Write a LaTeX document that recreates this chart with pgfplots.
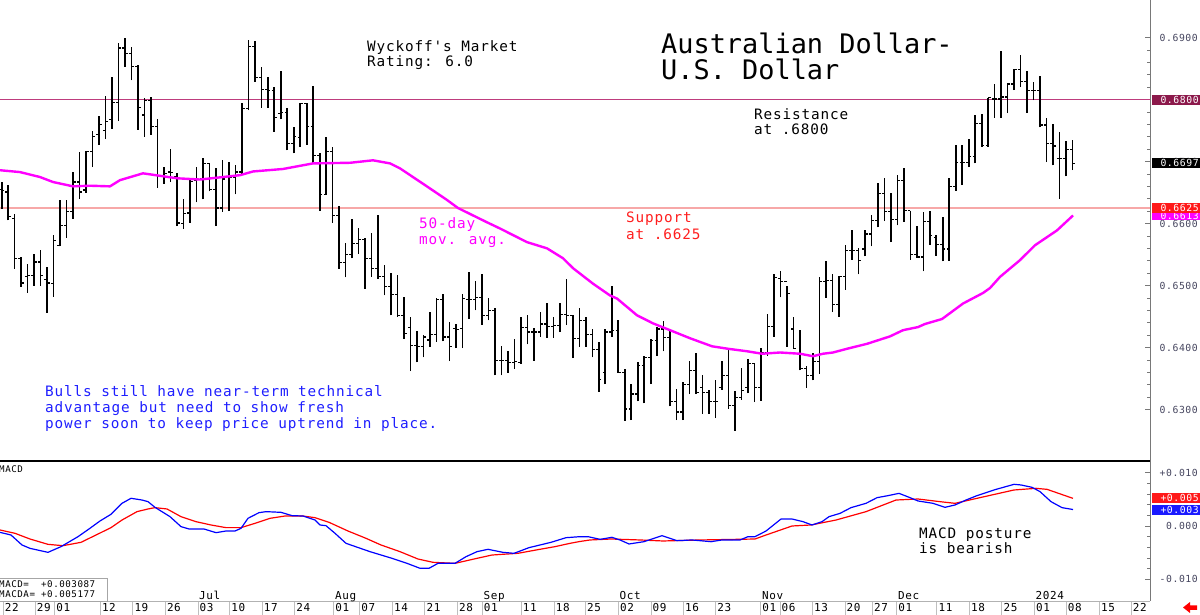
\documentclass[border=0pt]{standalone}
\usepackage{pgfplots}
\pgfplotsset{compat=1.18}
\usepackage{pgfplotstable}
\usepackage{fontspec}
\setmainfont{DejaVu Sans Mono}
\newfontfamily\chart[LetterSpace=6]{DejaVu Sans Mono}
\newfontfamily\titlefont{DejaVu Sans Mono}
\newcommand\fs[1]{\fontsize{#1}{#1}\selectfont}

\definecolor{resline}{RGB}{190,60,125}
\definecolor{maroonbox}{RGB}{140,25,75}
\definecolor{supportline}{RGB}{247,168,168}
\definecolor{redbox}{RGB}{255,25,25}
\definecolor{magbox}{RGB}{255,0,255}
\definecolor{bluebox}{RGB}{25,25,255}
\definecolor{tickgray}{RGB}{70,70,95}
\definecolor{axisgray}{RGB}{120,120,120}
\definecolor{macdblue}{RGB}{0,0,255}
\definecolor{macdred}{RGB}{255,0,0}
\definecolor{mavgcol}{RGB}{255,0,255}
\definecolor{textblue}{RGB}{30,30,255}
\definecolor{textred}{RGB}{255,30,30}

% daily AUD/USD bars: d = trading day, high, low, open, close
\pgfplotstableread{
d H L O C
0 0.6667 0.6624 0.6655 0.6653
1 0.6662 0.6605 0.6651 0.6611
2 0.6616 0.6527 0.6608 0.6543
3 0.6546 0.6498 0.6543 0.6504
4 0.6535 0.6488 0.6515 0.6516
5 0.6551 0.6500 0.6516 0.6538
6 0.6557 0.6500 0.6538 0.6516
7 0.6530 0.6456 0.6510 0.6504
8 0.6581 0.6482 0.6503 0.6573
9 0.6638 0.6563 0.6565 0.6597
10 0.6638 0.6577 0.6597 0.6619
11 0.6683 0.6608 0.6619 0.6667
12 0.6715 0.6640 0.6667 0.6651
13 0.6717 0.6650 0.6654 0.6716
14 0.6750 0.6691 0.6716 0.6741
15 0.6774 0.6727 0.6743 0.6760
16 0.6806 0.6736 0.6750 0.6765
17 0.6836 0.6753 0.6768 0.6795
18 0.6892 0.6765 0.6795 0.6883
19 0.6900 0.6853 0.6883 0.6874
20 0.6885 0.6831 0.6874 0.6853
21 0.6856 0.6751 0.6853 0.6787
22 0.6803 0.6740 0.6775 0.6799
23 0.6804 0.6743 0.6799 0.6756
24 0.6768 0.6658 0.6756 0.6678
25 0.6692 0.6664 0.6678 0.6681
26 0.6720 0.6667 0.6683 0.6682
27 0.6682 0.6596 0.6676 0.6601
28 0.6640 0.6592 0.6600 0.6616
29 0.6670 0.6601 0.6617 0.6668
30 0.6691 0.6634 0.6670 0.6671
31 0.6706 0.6639 0.6672 0.6697
32 0.6698 0.6652 0.6697 0.6655
33 0.6689 0.6596 0.6655 0.6625
34 0.6702 0.6619 0.6625 0.6672
35 0.6699 0.6620 0.6676 0.6675
36 0.6694 0.6647 0.6675 0.6683
37 0.6795 0.6680 0.6683 0.6786
38 0.6896 0.6783 0.6786 0.6886
39 0.6894 0.6829 0.6886 0.6836
40 0.6853 0.6787 0.6836 0.6816
41 0.6837 0.6787 0.6816 0.6815
42 0.6820 0.6748 0.6815 0.6771
43 0.6846 0.6768 0.6777 0.6779
44 0.6787 0.6718 0.6779 0.6729
45 0.6756 0.6713 0.6729 0.6741
46 0.6794 0.6724 0.6739 0.6793
47 0.6794 0.6727 0.6793 0.6757
48 0.6822 0.6697 0.6757 0.6710
49 0.6713 0.6621 0.6710 0.6647
50 0.6739 0.6646 0.6647 0.6716
51 0.6724 0.6601 0.6716 0.6613
52 0.6628 0.6527 0.6613 0.6537
53 0.6568 0.6513 0.6537 0.6550
54 0.6608 0.6544 0.6550 0.6568
55 0.6593 0.6551 0.6568 0.6574
56 0.6576 0.6495 0.6574 0.6543
57 0.6584 0.6514 0.6543 0.6527
58 0.6613 0.6511 0.6527 0.6514
59 0.6533 0.6484 0.6514 0.6498
60 0.6520 0.6452 0.6498 0.6485
61 0.6517 0.6450 0.6485 0.6452
62 0.6481 0.6414 0.6452 0.6422
63 0.6449 0.6362 0.6432 0.6403
64 0.6426 0.6376 0.6403 0.6402
65 0.6421 0.6384 0.6402 0.6417
66 0.6457 0.6401 0.6412 0.6421
67 0.6480 0.6409 0.6421 0.6478
68 0.6487 0.6410 0.6478 0.6417
69 0.6441 0.6378 0.6417 0.6402
70 0.6438 0.6399 0.6431 0.6429
71 0.6487 0.6399 0.6431 0.6479
72 0.6522 0.6446 0.6478 0.6477
73 0.6507 0.6460 0.6477 0.6481
74 0.6518 0.6437 0.6481 0.6452
75 0.6480 0.6444 0.6452 0.6460
76 0.6464 0.6355 0.6460 0.6379
77 0.6402 0.6355 0.6379 0.6379
78 0.6395 0.6359 0.6379 0.6376
79 0.6414 0.6366 0.6376 0.6377
80 0.6449 0.6374 0.6376 0.6432
81 0.6453 0.6405 0.6432 0.6425
82 0.6431 0.6379 0.6425 0.6425
83 0.6458 0.6417 0.6425 0.6438
84 0.6472 0.6416 0.6438 0.6434
85 0.6449 0.6416 0.6434 0.6436
86 0.6472 0.6425 0.6436 0.6453
87 0.6510 0.6436 0.6453 0.6452
88 0.6453 0.6383 0.6452 0.6414
89 0.6464 0.6401 0.6414 0.6443
90 0.6449 0.6401 0.6443 0.6421
91 0.6430 0.6384 0.6421 0.6397
92 0.6409 0.6329 0.6397 0.6349
93 0.6430 0.6341 0.6360 0.6425
94 0.6500 0.6417 0.6425 0.6427
95 0.6445 0.6359 0.6427 0.6360
96 0.6366 0.6282 0.6360 0.6301
97 0.6341 0.6283 0.6301 0.6325
98 0.6376 0.6313 0.6325 0.6371
99 0.6386 0.6310 0.6371 0.6384
100 0.6414 0.6341 0.6384 0.6411
101 0.6433 0.6387 0.6411 0.6430
102 0.6443 0.6394 0.6430 0.6416
103 0.6429 0.6305 0.6416 0.6313
104 0.6333 0.6283 0.6313 0.6296
105 0.6344 0.6283 0.6296 0.6341
106 0.6379 0.6325 0.6341 0.6363
107 0.6391 0.6325 0.6363 0.6328
108 0.6356 0.6293 0.6336 0.6328
109 0.6332 0.6293 0.6328 0.6313
110 0.6348 0.6286 0.6313 0.6313
111 0.6379 0.6332 0.6336 0.6355
112 0.6399 0.6301 0.6355 0.6306
113 0.6330 0.6266 0.6306 0.6320
114 0.6367 0.6316 0.6320 0.6331
115 0.6382 0.6326 0.6336 0.6374
116 0.6375 0.6312 0.6374 0.6336
117 0.6400 0.6314 0.6336 0.6392
118 0.6454 0.6387 0.6392 0.6434
119 0.6518 0.6417 0.6434 0.6513
120 0.6523 0.6481 0.6511 0.6507
121 0.6500 0.6401 0.6507 0.6487
122 0.6449 0.6398 0.6430 0.6398
123 0.6429 0.6363 0.6390 0.6366
124 0.6371 0.6335 0.6366 0.6355
125 0.6391 0.6347 0.6355 0.6378
126 0.6513 0.6358 0.6378 0.6506
127 0.6540 0.6480 0.6506 0.6508
128 0.6519 0.6457 0.6508 0.6470
129 0.6515 0.6450 0.6470 0.6514
130 0.6565 0.6493 0.6514 0.6556
131 0.6590 0.6542 0.6556 0.6556
132 0.6561 0.6518 0.6556 0.6541
133 0.6590 0.6547 0.6559 0.6583
134 0.6613 0.6563 0.6583 0.6605
135 0.6666 0.6594 0.6605 0.6649
136 0.6674 0.6604 0.6648 0.6619
137 0.6650 0.6570 0.6619 0.6606
138 0.6679 0.6597 0.6606 0.6670
139 0.6690 0.6603 0.6670 0.6621
140 0.6621 0.6542 0.6621 0.6550
141 0.6596 0.6545 0.6550 0.6546
142 0.6619 0.6523 0.6546 0.6603
143 0.6620 0.6566 0.6603 0.6581
144 0.6582 0.6548 0.6578 0.6566
145 0.6610 0.6539 0.6566 0.6559
146 0.6673 0.6540 0.6559 0.6660
147 0.6726 0.6653 0.6660 0.6698
148 0.6726 0.6662 0.6698 0.6698
149 0.6736 0.6691 0.6698 0.6708
150 0.6775 0.6697 0.6708 0.6762
151 0.6776 0.6724 0.6762 0.6726
152 0.6803 0.6724 0.6726 0.6803
153 0.6825 0.6771 0.6801 0.6801
154 0.6879 0.6771 0.6801 0.6804
155 0.6826 0.6778 0.6804 0.6825
156 0.6850 0.6815 0.6825 0.6848
157 0.6872 0.6820 0.6848 0.6829
158 0.6846 0.6779 0.6829 0.6815
159 0.6829 0.6799 0.6815 0.6815
160 0.6838 0.6755 0.6815 0.6759
161 0.6771 0.6699 0.6759 0.6729
162 0.6761 0.6694 0.6729 0.6725
163 0.6748 0.6640 0.6705 0.6705
164 0.6733 0.6676 0.6705 0.6719
165 0.6734 0.6686 0.6719 0.6697
}\ohlc

% 50-day moving average (x in chart units)
\pgfplotstableread{
x v
0 0.6686
20 0.6683
40 0.6675
53 0.6667
73 0.6660
90 0.6661
110 0.6660
120 0.6670
143 0.6681
177 0.6673
200 0.6671
240 0.6678
253 0.6684
283 0.6688
313 0.6697
350 0.6698
373 0.6702
390 0.6697
400 0.6689
425 0.6662
447 0.6638
458 0.6625
487 0.6602
500 0.6592
527 0.6570
547 0.6560
563 0.6544
573 0.6528
593 0.6503
610 0.6484
617 0.6479
637 0.6452
653 0.6439
670 0.6428
690 0.6415
712 0.6402
728 0.6398
747 0.6394
762 0.6390
780 0.6392
800 0.6390
813 0.6386
823 0.6390
833 0.6392
847 0.6398
867 0.6406
890 0.6418
903 0.6428
918 0.6433
925 0.6438
942 0.6446
963 0.6471
983 0.6488
990 0.6496
1000 0.6514
1020 0.6541
1035 0.6565
1057 0.6589
1073 0.6613
}\mavg

% MACD line
\pgfplotstableread{
x v
0 -0.00119
11 -0.00169
22 -0.00356
30 -0.00419
48 -0.00494
61 -0.00387
78 -0.00200
89 -0.00056
100 0.00094
111 0.00219
122 0.00425
131 0.00519
142 0.00487
148 0.00456
155 0.00350
170 0.00175
181 -0.00012
189 -0.00056
204 -0.00056
216 -0.00125
226 -0.00094
235 -0.00094
241 -0.00044
248 0.00144
259 0.00250
266 0.00269
281 0.00256
292 0.00194
303 0.00187
315 0.00112
320 0.00019
326 0.00006
335 -0.00137
346 -0.00325
370 -0.00481
392 -0.00606
407 -0.00700
420 -0.00793
429 -0.00793
438 -0.00700
455 -0.00700
466 -0.00575
477 -0.00481
488 -0.00437
503 -0.00494
514 -0.00512
529 -0.00406
551 -0.00306
566 -0.00219
580 -0.00200
588 -0.00200
600 -0.00250
612 -0.00212
620 -0.00262
629 -0.00337
644 -0.00294
662 -0.00181
677 -0.00275
692 -0.00262
711 -0.00294
722 -0.00262
740 -0.00262
748 -0.00200
755 -0.00200
766 -0.00094
781 0.00131
792 0.00131
803 0.00081
812 0.00019
822 0.00081
829 0.00175
840 0.00237
851 0.00344
866 0.00425
877 0.00531
888 0.00569
899 0.00612
910 0.00531
918 0.00469
933 0.00425
945 0.00350
955 0.00394
966 0.00487
977 0.00569
995 0.00681
1014 0.00781
1021 0.00769
1032 0.00725
1040 0.00644
1051 0.00456
1062 0.00344
1073 0.003087
}\macd

% MACD signal line
\pgfplotstableread{
x v
0 -0.00075
15 -0.00137
30 -0.00244
48 -0.00344
63 -0.00369
81 -0.00306
96 -0.00169
111 -0.00031
122 0.00112
137 0.00269
148 0.00319
155 0.00344
167 0.00319
181 0.00175
196 0.00081
211 0.00019
226 -0.00031
241 -0.00031
255 0.00050
270 0.00144
285 0.00187
303 0.00187
315 0.00156
329 0.00069
348 -0.00094
366 -0.00231
381 -0.00356
400 -0.00481
418 -0.00619
433 -0.00681
455 -0.00700
477 -0.00606
492 -0.00544
518 -0.00512
536 -0.00450
555 -0.00387
570 -0.00325
580 -0.00290
590 -0.00262
611 -0.00244
640 -0.00262
663 -0.00281
700 -0.00262
755 -0.00244
766 -0.00169
792 0.00000
811 0.00019
836 0.00112
866 0.00269
896 0.00487
918 0.00506
940 0.00456
955 0.00425
977 0.00519
1014 0.00675
1036 0.00706
1047 0.00687
1073 0.005177
}\macdsig

\pgfplotsset{
  rightscale/.style={
    scale only axis, width=1150bp, xmin=0, xmax=1150, clip=false,
    axis line style={draw=none}, xtick=\empty,
    ytick pos=right, yticklabel pos=right,
    scaled y ticks=false,
    ytick style={draw=axisgray, line width=0.6bp},
    tick align=inside, major tick length=5bp, minor tick length=3bp,
    minor y tick num=4,
    yticklabel style={font=\chart\fs{9.8}, text=tickgray, anchor=east,
      inner sep=0pt, xshift=48bp},
  },
}

\tikzset{valbox/.style={anchor=west, inner xsep=1bp, inner ysep=0pt,
  minimum height=10bp, text width=46bp, align=right, text=white,
  font=\chart\fs{9.8}, xshift=1.5bp}}

\begin{document}
\begin{tikzpicture}[x=1bp,y=1bp]
\path[use as bounding box] (0,0) rectangle (1200,615);

% ---- price panel ----
\begin{axis}[rightscale, at={(0bp,154bp)}, anchor=south west, height=461bp,
  ymin=0.6217, ymax=0.69606,
  ytick={0.63,0.64,0.65,0.66,0.67,0.68,0.69},
  yticklabels={0.6300,0.6400,0.6500,0.6600,0.6700,0.6800,0.6900}]
\addplot[color=supportline, line width=2bp] coordinates {(0,0.6625) (1150,0.6625)};
\addplot[color=resline, line width=1.4bp] coordinates {(0,0.68) (1150,0.68)};
\addplot[black, line width=1.6bp, -, quiver={u=0, v=\thisrow{H}-\thisrow{L}}]
  table[x expr=1.7+6.49*\thisrow{d}, y=L] {\ohlc};
\addplot[black, line width=1.2bp, -, quiver={u=-2.7, v=0}]
  table[x expr=1.7+6.49*\thisrow{d}, y=O] {\ohlc};
\addplot[black, line width=1.2bp, -, quiver={u=2.7, v=0}]
  table[x expr=1.7+6.49*\thisrow{d}, y=C] {\ohlc};
\addplot[mavgcol, line width=2.4bp, line join=round] table[x=x, y=v] {\mavg};
\draw[axisgray, line width=0.8bp] (rel axis cs:1,0) -- (rel axis cs:1,1);
\draw[black, line width=1.6bp] (rel axis cs:0,0) -- (rel axis cs:1,0);
\coordinate (p680) at (axis cs:1150,0.68);
\coordinate (p6697) at (axis cs:1150,0.6697);
\coordinate (p6625) at (axis cs:1150,0.6625);
\coordinate (p6613) at (axis cs:1150,0.6613);
\end{axis}

% ---- MACD panel ----
\begin{axis}[rightscale, at={(0bp,14bp)}, anchor=south west, height=140bp,
  ymin=-0.014058, ymax=0.012184,
  ytick={-0.01,0,0.01}, yticklabels={-0.010,0.000,+0.010}]
\addplot[macdred, line width=1.2bp, line join=round] table[x=x, y=v] {\macdsig};
\addplot[macdblue, line width=1.2bp, line join=round] table[x=x, y=v] {\macd};
\draw[axisgray, line width=0.8bp] (rel axis cs:1,0) -- (rel axis cs:1,1);
\coordinate (m5) at (axis cs:1150,0.005177);
\coordinate (m3) at (axis cs:1150,0.003087);
\end{axis}

% ---- date strip ----
\begin{axis}[at={(0bp,0bp)}, anchor=south west, scale only axis, width=1150bp, height=14bp,
  xmin=0, xmax=1150, ymin=0, ymax=1, clip=false,
  axis line style={draw=none}, ytick=\empty, major tick length=0pt,
  xtick={3.1,35.2,54.7,100.3,132.8,165.3,197.9,229.6,262.2,294.7,333.7,359.7,
    392.3,424.8,457.3,482.2,521.2,554.2,585.5,618.4,650.9,683.4,715.6,760.7,
    779.9,812.4,844.9,872.5,896.6,936.8,969.3,1001.8,1034.4,1066.1,1099.4,1131.2},
  xticklabels={22,29,01,12,19,26,03,10,17,24,01,07,14,21,28,01,11,18,25,02,
    09,16,23,01,06,13,20,27,01,11,18,25,01,08,15,22},
  xmajorgrids, grid style={gray!50, line width=0.8bp},
  xticklabel style={anchor=base west, inner sep=0pt, xshift=1.5bp, yshift=3.3bp,
    font=\chart\fs{11}, text=black}]
\draw[gray!60, line width=0.8bp] (rel axis cs:0,1) -- (rel axis cs:1,1);
\end{axis}

% value boxes on the right scale
\node[valbox, fill=maroonbox] at (p680) {0.6800};
\node[valbox, fill=black] at (p6697) {0.6697};
\node[valbox, fill=magbox] at (p6613) {0.6613};
\node[valbox, fill=redbox] at (p6625) {0.6625};
\node[valbox, fill=bluebox] at (m3) {+0.003};
\node[valbox, fill=redbox] at (m5) {+0.005};

% month names
\foreach \mx/\mn in {199/Jul,335/Aug,483.5/Sep,619.5/Oct,762/Nov,898/Dec,1035.5/2024}
  \node[anchor=base west, inner sep=0pt, font=\chart\fs{11}] at (\mx,15.5) {\mn};

% titles and notes
\node[anchor=base west, inner sep=0pt, font=\titlefont\fs{27}] at (661,561.7) {Australian Dollar-};
\node[anchor=base west, inner sep=0pt, font=\titlefont\fs{27}] at (661,535.7) {U.S. Dollar};
\node[anchor=base west, inner sep=0pt, font=\chart\fs{14.4}] at (367,563.3) {Wyckoff's Market};
\node[anchor=base west, inner sep=0pt, font=\chart\fs{14.4}] at (367,548.3) {Rating: 6.0};
\node[anchor=base west, inner sep=0pt, font=\chart\fs{14.4}] at (754,495) {Resistance};
\node[anchor=base west, inner sep=0pt, font=\chart\fs{14.4}] at (754,480) {at .6800};
\node[anchor=base west, inner sep=0pt, font=\chart\fs{14.4}, text=mavgcol] at (419,386.7) {50-day};
\node[anchor=base west, inner sep=0pt, font=\chart\fs{14.4}, text=mavgcol] at (419,370) {mov. avg.};
\node[anchor=base west, inner sep=0pt, font=\chart\fs{14.4}, text=textred] at (626,392) {Support};
\node[anchor=base west, inner sep=0pt, font=\chart\fs{14.4}, text=textred] at (626,375) {at .6625};
\node[anchor=base west, inner sep=0pt, font=\chart\fs{14.4}, text=textblue] at (45,218) {Bulls still have near-term technical};
\node[anchor=base west, inner sep=0pt, font=\chart\fs{14.4}, text=textblue] at (45,202) {advantage but need to show fresh};
\node[anchor=base west, inner sep=0pt, font=\chart\fs{14.4}, text=textblue] at (45,186.5) {power soon to keep price uptrend in place.};
\node[anchor=base west, inner sep=0pt, font=\chart\fs{14.4}] at (919,76.7) {MACD posture};
\node[anchor=base west, inner sep=0pt, font=\chart\fs{14.4}] at (919,61) {is bearish};

% MACD panel caption and readout
\node[anchor=base west, inner sep=0pt, font=\chart\fs{9.2}] at (-1,142.5) {MACD};
\draw[gray!70, line width=0.8bp, fill=white] (-1,14) rectangle (107,37);
\node[anchor=base west, inner sep=0pt, font=\chart\fs{9.2}] at (-1,27.5) {MACD=\ \ +0.003087};
\node[anchor=base west, inner sep=0pt, font=\chart\fs{9.2}] at (-1,17.5) {MACDA= +0.005177};

% scroll arrow
\fill[red] (1183,7.5) -- (1190,13) -- (1190,9.5) -- (1197,9.5) -- (1197,5) -- (1190,5) -- (1190,2) -- cycle;
\end{tikzpicture}
\end{document}
